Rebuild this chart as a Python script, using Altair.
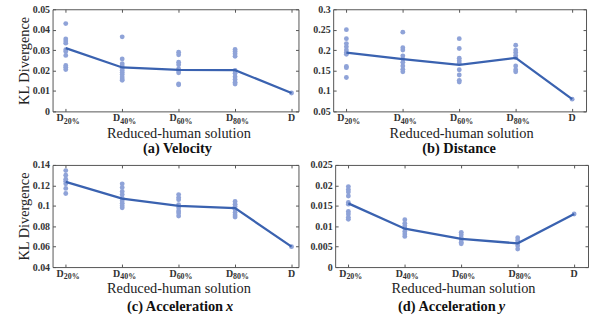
import altair as alt
import pandas as pd

# ---------------- data ----------------
categories = ["D20%", "D40%", "D60%", "D80%", "D"]
cat_main = ["D", "D", "D", "D", "D"]
cat_sub = ["20%", "40%", "60%", "80%", ""]

vel_pts = [
    [0.043, 0.0355, 0.0344, 0.0334, 0.0302, 0.0293, 0.0274, 0.0225, 0.0216, 0.0205],
    [0.0365, 0.0257, 0.0233, 0.0222, 0.021, 0.020, 0.019, 0.018, 0.0168, 0.0158, 0.0152],
    [0.029, 0.0277, 0.0241, 0.0228, 0.0208, 0.020, 0.0189, 0.0134, 0.013],
    [0.0303, 0.0293, 0.0282, 0.027, 0.020, 0.0187, 0.017, 0.0156, 0.0143, 0.0134],
    [0.009],
]
vel_mean = [0.031, 0.0215, 0.0203, 0.0202, 0.009]

dist_pts = [
    [0.25, 0.228, 0.216, 0.208, 0.2, 0.194, 0.19, 0.16, 0.157, 0.133],
    [0.244, 0.206, 0.2, 0.186, 0.178, 0.17, 0.161, 0.153, 0.147],
    [0.228, 0.204, 0.18, 0.174, 0.168, 0.152, 0.139, 0.126, 0.122],
    [0.212, 0.2, 0.194, 0.187, 0.182, 0.161, 0.152, 0.147],
    [0.08],
]
dist_mean = [0.194, 0.178, 0.164, 0.181, 0.08]

accx_pts = [
    [0.1345, 0.13, 0.126, 0.124, 0.1215, 0.117, 0.112],
    [0.1215, 0.118, 0.114, 0.111, 0.1075, 0.105, 0.1025, 0.1, 0.098],
    [0.111, 0.108, 0.106, 0.101, 0.098, 0.095, 0.093, 0.09],
    [0.1042, 0.1016, 0.0993, 0.0967, 0.0935, 0.091, 0.089],
    [0.06],
]
accx_mean = [0.1235, 0.107, 0.1, 0.0977, 0.06]

accy_pts = [
    [0.0197, 0.019, 0.0184, 0.0174, 0.0158, 0.0154, 0.0136, 0.013, 0.0122, 0.0117],
    [0.0116, 0.0107, 0.0101, 0.0095, 0.0087, 0.0081, 0.0075],
    [0.0085, 0.0079, 0.0072, 0.0067, 0.0061, 0.0057],
    [0.0072, 0.0065, 0.0059, 0.0052, 0.0044],
    [0.013],
]
accy_mean = [0.0156, 0.0094, 0.0069, 0.0058, 0.013]

vel_ticks = [0, 0.01, 0.02, 0.03, 0.04, 0.05]
dist_ticks = [0.05, 0.1, 0.15, 0.2, 0.25, 0.3]
accx_ticks = [0.04, 0.06, 0.08, 0.1, 0.12, 0.14]
accy_ticks = [0, 0.005, 0.01, 0.015, 0.02, 0.025]

x_title = "Reduced-human solution"
y_title = "KL Divergence"

# ---------------- style ----------------
FONT = "Liberation Serif"
DOT = "#8FA3D8"
LINE = "#3A62B0"
FRAME = "#555555"
TXT = "#333333"


def points_df(pts):
    rows = []
    for i, vals in enumerate(pts):
        for v in vals:
            rows.append({"idx": i, "cat": categories[i], "value": v})
    return pd.DataFrame(rows)


def tick_axis(orient, values):
    return alt.Axis(orient=orient, offset=-3, values=values, tickSize=3, tickColor=FRAME,
                    tickWidth=1, labels=False, domain=False, grid=False, title=None,
                    minExtent=0, maxExtent=0)


def panel(pts, mean, yticks, ytitle, tmain, tital, width, height, xdom, extent,
          tcx, xtitle_x, ty):
    pdf = points_df(pts)
    mdf = pd.DataFrame({"idx": list(range(5)), "cat": categories, "value": mean})
    lab = pd.DataFrame({"idx": list(range(5)), "main": cat_main, "sub": cat_sub})
    tdf = pd.DataFrame({"a": [tmain], "b": [tital]})

    xs = alt.Scale(domain=xdom, nice=False, zero=False)
    ys = alt.Scale(domain=[yticks[0], yticks[-1]], nice=False, zero=False)

    y_main = alt.Axis(orient="left", values=yticks, format="~g", labelFont=FONT,
                      labelFontWeight="bold", labelFontSize=10, labelColor=TXT,
                      ticks=False, domain=False, grid=False, labelPadding=3,
                      minExtent=extent, maxExtent=extent,
                      title=ytitle, titleFont=FONT, titleFontSize=14.5,
                      titleFontWeight="normal", titleColor="#222222", titlePadding=1)
    x_main = alt.Axis(orient="bottom", values=[0, 1, 2, 3, 4], labels=False, ticks=False,
                      domain=False, grid=False, title=x_title, titleFont=FONT,
                      titleFontSize=14.5, titleFontWeight="normal", titleColor="#222222",
                      titlePadding=15, titleX=xtitle_x, minExtent=0, maxExtent=0)

    dots = alt.Chart(pdf).mark_circle(size=24, color=DOT, opacity=1).encode(
        x=alt.X("idx:Q", scale=xs, axis=x_main),
        y=alt.Y("value:Q", scale=ys, axis=y_main),
    )
    line = alt.Chart(mdf).mark_line(color=LINE, strokeWidth=2.3).encode(
        x=alt.X("idx:Q", scale=xs, axis=tick_axis("bottom", [0, 1, 2, 3, 4])),
        y=alt.Y("value:Q", scale=ys, axis=tick_axis("left", yticks)),
    )
    frame = alt.Chart(mdf).mark_line(opacity=0).encode(
        x=alt.X("idx:Q", scale=xs, axis=tick_axis("top", [0, 1, 2, 3, 4])),
        y=alt.Y("value:Q", scale=ys, axis=tick_axis("right", yticks)),
    )
    d_sub = alt.Chart(lab).transform_filter("datum.sub != ''").mark_text(
        align="right", baseline="middle", dx=-2, font=FONT, fontWeight="bold",
        fontSize=10, color=TXT).encode(
        x=alt.X("idx:Q", scale=xs, axis=None), y=alt.value(height + 7), text="main:N")
    sub = alt.Chart(lab).transform_filter("datum.sub != ''").mark_text(
        align="left", baseline="middle", dx=-2, font=FONT, fontWeight="bold",
        fontSize=8, color=TXT).encode(
        x=alt.X("idx:Q", scale=xs, axis=None), y=alt.value(height + 10.5), text="sub:N")
    d_plain = alt.Chart(lab).transform_filter("datum.sub == ''").mark_text(
        align="center", baseline="middle", font=FONT, fontWeight="bold",
        fontSize=10, color=TXT).encode(
        x=alt.X("idx:Q", scale=xs, axis=None), y=alt.value(height + 7), text="main:N")

    layers = [dots, line, frame, d_sub, sub, d_plain]
    if tital:
        t1 = alt.Chart(tdf).mark_text(align="right", baseline="middle", font=FONT,
                                      fontWeight="bold", fontSize=14.5, color="#111111").encode(
            x=alt.value(tcx), y=alt.value(height + ty), text="a:N")
        t2 = alt.Chart(tdf).mark_text(align="left", baseline="middle", font=FONT,
                                      fontWeight="bold", fontStyle="italic", fontSize=14.5,
                                      color="#111111").encode(
            x=alt.value(tcx + 3), y=alt.value(height + ty), text="b:N")
        layers += [t1, t2]
    else:
        t1 = alt.Chart(tdf).mark_text(align="center", baseline="middle", font=FONT,
                                      fontWeight="bold", fontSize=14.5, color="#111111").encode(
            x=alt.value(tcx), y=alt.value(height + ty), text="a:N")
        layers += [t1]

    return alt.layer(*layers).resolve_axis(x="independent", y="independent").properties(
        width=width, height=height)


H = 103
WA = 248
WB = 255
XA = [-0.234, 4.123]
XB = [-0.234, 4.246]

pa = panel(vel_pts, vel_mean, vel_ticks, y_title, "(a) Velocity", "", WA, H, XA, 20, 126, 127, 38)
pb = panel(dist_pts, dist_mean, dist_ticks, None, "(b) Distance", "", WB, H, XB, 23.5, 127, 129, 38)
pc = panel(accx_pts, accx_mean, accx_ticks, y_title, "(c) Acceleration", "x", WA, H, XA, 20, 172, 127, 40)
pd_ = panel(accy_pts, accy_mean, accy_ticks, None, "(d) Acceleration", "y", WB, H, XB, 23.5, 162, 129, 40)

row1 = alt.hconcat(pa, pb, spacing=10)
row2 = alt.hconcat(pc, pd_, spacing=10)
chart = alt.vconcat(row1, row2, spacing=3).properties(
    padding={"left": 16, "top": 2, "right": 0, "bottom": 0},
    background="white",
).configure_view(stroke=FRAME, strokeWidth=1).configure_concat(spacing=10)

chart.save("out.html", embed_options={"renderer": "svg", "actions": False})
